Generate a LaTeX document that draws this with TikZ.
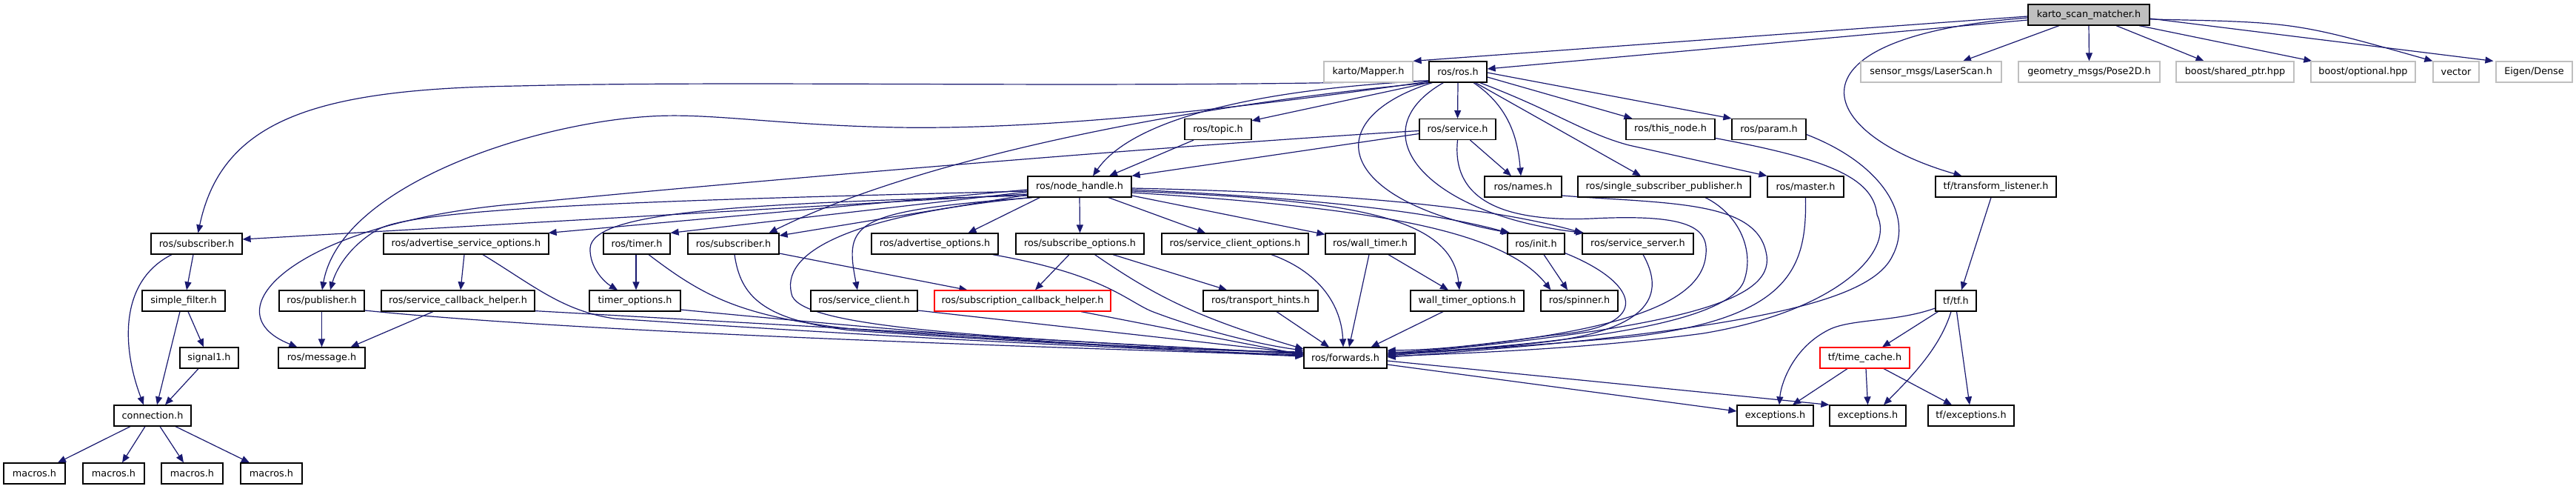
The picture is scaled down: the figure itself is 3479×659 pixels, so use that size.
\documentclass[tikz,border=0pt]{standalone}
\usepackage{fontspec}
\setmainfont{DejaVu Sans}
\usetikzlibrary{arrows.meta,calc}
\definecolor{edgecol}{HTML}{191970}
\definecolor{extgray}{HTML}{BFBFBF}
\pgfdeclarelayer{bg}
\pgfsetlayers{bg,main}
\begin{document}
\begin{tikzpicture}[x=0.5pt,y=-0.5pt,
 box/.style={draw=black, fill=white, line width=0.6pt, minimum height=14pt, inner sep=0pt, font=\fontsize{6.4}{7.7}\selectfont},
 ext/.style={box, draw=extgray},
 trunc/.style={box, draw=red},
 root/.style={box, fill=extgray},
 wd/.style={minimum width=#1*0.5pt},
 dep/.style={draw=edgecol, line width=0.6pt, -{Triangle[length=5.5pt,width=4.5pt]}}]
\useasboundingbox (0,0) rectangle (3479,659);
% row 1
\node[root, wd=164] (K) at (2821,20) {karto\_scan\_matcher.h};
% row 2
\node[ext, wd=120] (mapper) at (1848,97) {karto/Mapper.h};
\node[box, wd=78] (ros) at (1969,97) {ros/ros.h};
\node[ext, wd=190] (laser) at (2608,97) {sensor\_msgs/LaserScan.h};
\node[ext, wd=191] (pose) at (2821.5,97) {geometry\_msgs/Pose2D.h};
\node[ext, wd=159] (shared) at (3018.5,97) {boost/shared\_ptr.hpp};
\node[ext, wd=141] (optional) at (3191.5,97) {boost/optional.hpp};
\node[ext, wd=62] (vector) at (3317,97) {vector};
\node[ext, wd=103] (eigen) at (3422.5,97) {Eigen/Dense};
% row 3
\node[box, wd=90] (topic) at (1645,174.5) {ros/topic.h};
\node[box, wd=103] (service) at (1968.5,174.5) {ros/service.h};
\node[box, wd=120] (thisnode) at (2256,174.5) {ros/this\_node.h};
\node[box, wd=100] (param) at (2389,174.5) {ros/param.h};
% row 4
\node[box, wd=140] (nh) at (1458,252) {ros/node\_handle.h};
\node[box, wd=104] (names) at (2057,252) {ros/names.h};
\node[box, wd=233] (ssp) at (2247.5,252) {ros/single\_subscriber\_publisher.h};
\node[box, wd=103] (master) at (2438.5,252) {ros/master.h};
\node[box, wd=163] (tl) at (2695.5,252) {tf/transform\_listener.h};
% row 5
\node[box, wd=123] (subA) at (265.5,329) {ros/subscriber.h};
\node[box, wd=223] (aso) at (629.5,329) {ros/advertise\_service\_options.h};
\node[box, wd=90] (timer) at (860,329) {ros/timer.h};
\node[box, wd=123] (subB) at (990.5,329) {ros/subscriber.h};
\node[box, wd=171] (ao) at (1262.5,329) {ros/advertise\_options.h};
\node[box, wd=173] (so) at (1458.5,329) {ros/subscribe\_options.h};
\node[box, wd=198] (sco) at (1668,329) {ros/service\_client\_options.h};
\node[box, wd=121] (wt) at (1850.5,329) {ros/wall\_timer.h};
\node[box, wd=77] (init) at (2074.5,329) {ros/init.h};
\node[box, wd=150] (ss) at (2212,329) {ros/service\_server.h};
% row 6
\node[box, wd=112] (sf) at (248,406) {simple\_filter.h};
\node[box, wd=115] (pub) at (434.5,406) {ros/publisher.h};
\node[box, wd=207] (sch) at (618.5,406) {ros/service\_callback\_helper.h};
\node[box, wd=123] (tmo) at (857.5,406) {timer\_options.h};
\node[box, wd=144] (sc) at (1167,406) {ros/service\_client.h};
\node[trunc, wd=238] (scbh) at (1381,406) {ros/subscription\_callback\_helper.h};
\node[box, wd=155] (th) at (1702.5,406) {ros/transport\_hints.h};
\node[box, wd=153] (wto) at (1981.5,406) {wall\_timer\_options.h};
\node[box, wd=104] (spin) at (2133,406) {ros/spinner.h};
\node[box, wd=55] (tf) at (2641.5,406) {tf/tf.h};
% row 7
\node[box, wd=79] (sig) at (282.5,483) {signal1.h};
\node[box, wd=117] (msg) at (434.5,483) {ros/message.h};
\node[box, wd=112] (fwd) at (1817,483) {ros/forwards.h};
\node[trunc, wd=121] (tc) at (2518.5,483) {tf/time\_cache.h};
% row 8
\node[box, wd=104] (conn) at (206,561) {connection.h};
\node[box, wd=103] (exa) at (2397.5,561) {exceptions.h};
\node[box, wd=103] (exb) at (2522.5,561) {exceptions.h};
\node[box, wd=116] (tfex) at (2662,561) {tf/exceptions.h};
% row 9
\node[box, wd=83] (m1) at (46.5,639) {macros.h};
\node[box, wd=83] (m2) at (153.5,639) {macros.h};
\node[box, wd=83] (m3) at (259.5,639) {macros.h};
\node[box, wd=83] (m4) at (366.5,639) {macros.h};

\begin{pgfonlayer}{bg}
\fill[white] (0,0) rectangle (3479,659);
% karto_scan_matcher.h
\draw[dep] ($(K.west)+(0,2)$) -- (mapper.north east);
\draw[dep] ($(K.west)+(0,7)$) -- ($(ros.east)+(0,-4)$);
\draw[dep] ($(K.south)+(-40,0)$) -- ($(laser.north)+(43,0)$);
\draw[dep] (K.south) -- (pose.north);
\draw[dep] ($(K.south)+(37,0)$) -- ($(shared.north)+(-42,0)$);
\draw[dep] ($(K.south)+(68,0)$) -- ($(optional.north west)+(2,0)$);
\draw[dep] ($(K.east)+(0,6)$) .. controls (3100,30) .. (vector.north west);
\draw[dep] ($(K.east)+(0,5)$) -- ($(eigen.north west)+(-3,0)$);
\draw[dep] ($(K.west)+(0,4)$) .. controls (2400,50) and (2450,180) .. ($(tl.north)+(-46,0)$);
% ros/ros.h
\draw[dep] ($(ros.west)+(0,12)$) .. controls (1500,120) and (1000,108) .. (700,116) .. controls (430,120) and (300,160) .. ($(subA.north)+(2,0)$);
\draw[dep] ($(ros.west)+(0,12)$) .. controls (1700,120) and (1530,160) .. ($(nh.north)+(18,0)$);
\draw[dep] (ros.south west) -- ($(topic.north east)+(0,3)$);
\draw[dep] (ros.south) -- (service.north);
\draw[dep] ($(ros.west)+(0,13)$) .. controls (1650,150) and (1400,175) .. (1213,172) .. controls (1050,169) and (960,152) .. (879,157) .. controls (720,166) and (460,250) .. ($(pub.north)+(0.5,0)$);
\draw[dep] ($(ros.south west)+(2,0)$) .. controls (1620,140) and (1250,210) .. ($(subB.north)+(48,0)$);
\draw[dep] ($(ros.south)+(21,0)$) .. controls (2040,145) and (2050,190) .. ($(names.north)+(-3,0)$);
\draw[dep] ($(ros.east)+(0,7)$) -- ($(thisnode.north west)+(9,0)$);
\draw[dep] ($(ros.east)+(0,1)$) -- (param.north west);
\draw[dep] ($(ros.south east)+(-10,0)$) .. controls (2100,150) and (2140,180) .. (2200,196) -- (master.north west);
\draw[dep] ($(ros.south east)+(-16,0)$) -- ($(ssp.north)+(-31.5,0)$);
\draw[dep] ($(ros.south west)+(5,0)$) .. controls (1780,160) and (1800,270) .. ($(init.north west)+(4,0)$);
\draw[dep] ($(ros.south west)+(20,0)$) .. controls (1830,180) and (1930,290) .. ($(ss.north west)+(3,0)$);
% ros/service.h
\draw[dep] ($(service.west)+(0,6)$) -- (nh.north east);
\draw[dep] ($(service.south)+(17,0)$) -- ($(names.north)+(-16,0)$);
\draw[dep] ($(service.west)+(0,2)$) .. controls (1600,195) and (1000,245) .. (700,275) .. controls (400,300) and (280,420) .. ($(msg.north west)+(26,0)$);
\draw[dep] (service.south) .. controls (1960,270) and (2030,300) .. (2150,295) .. controls (2290,288) and (2310,310) .. (2303,350) .. controls (2290,420) and (2150,455) .. ($(fwd.east)+(0,-6)$);
% ros/topic.h
\draw[dep] ($(topic.south)+(-33,0)$) -- ($(nh.north)+(40,0)$);
% ros/node_handle.h
\draw[dep] ($(nh.west)+(0,10)$) -- ($(subA.east)+(0,-6)$);
\draw[dep] ($(nh.west)+(0,6)$) .. controls (900,270) and (560,280) .. (510,310) .. controls (475,330) and (455,360) .. ($(pub.north)+(11.5,0)$);
\draw[dep] ($(nh.west)+(0,4)$) -- ($(aso.north east)+(-1,0)$);
\draw[dep] ($(nh.west)+(0,7)$) -- (timer.north east);
\draw[dep] ($(nh.west)+(0,11)$) -- ($(subB.east)+(0,-11)$);
\draw[dep] ($(nh.west)+(0,12)$) .. controls (1000,275) and (800,285) .. (797,335) .. controls (796,360) and (815,380) .. ($(tmo.north)+(-23.5,0)$);
\draw[dep] ($(nh.south west)+(7,0)$) .. controls (1150,285) and (1140,300) .. ($(sc.north)+(-9,0)$);
\draw[dep] ($(nh.south west)+(5,0)$) .. controls (1150,290) and (1050,340) .. (1070,400) .. controls (1090,440) and (1300,455) .. ($(fwd.west)+(0,-6)$);
\draw[dep] ($(nh.south west)+(17,0)$) -- ($(ao.north)+(45,0)$);
\draw[dep] (nh.south) -- (so.north);
\draw[dep] ($(nh.south)+(39,0)$) -- ($(sco.north)+(-40,0)$);
\draw[dep] ($(nh.east)+(0,12)$) -- ($(wt.north west)+(0,2)$);
\draw[dep] ($(nh.east)+(0,4)$) .. controls (1800,268) and (1950,290) .. ($(init.north west)+(2,0)$);
\draw[dep] ($(nh.east)+(0,2)$) .. controls (1900,262) and (2050,290) .. ($(ss.north west)+(1,0)$);
\draw[dep] ($(nh.east)+(0,6)$) .. controls (1820,270) and (1960,290) .. ($(wto.north)+(-10.5,0)$);
\draw[dep] ($(nh.east)+(0,8)$) .. controls (1850,280) and (2030,310) .. ($(spin.north west)+(14,0)$);
% left part
\draw[dep] ($(subA.south)+(-4.5,0)$) -- ($(sf.north)+(4,0)$);
\draw[dep] ($(subA.south)+(-33.5,0)$) .. controls (160,380) and (165,470) .. ($(conn.north)+(-12,0)$);
\draw[dep] ($(sf.south)+(-5,0)$) -- ($(conn.north)+(6,0)$);
\draw[dep] ($(sf.south)+(6,0)$) -- ($(sig.north)+(-7.5,0)$);
\draw[dep] ($(sig.south)+(-14.5,0)$) -- ($(conn.north)+(17,0)$);
\draw[dep] ($(conn.south)+(-30,0)$) -- ($(m1.north)+(31.5,0)$);
\draw[dep] ($(conn.south)+(-10,0)$) -- ($(m2.north)+(11.5,0)$);
\draw[dep] ($(conn.south)+(10,0)$) -- ($(m3.north)+(-11.5,0)$);
\draw[dep] ($(conn.south)+(31,0)$) -- ($(m4.north)+(-29.5,0)$);
\draw[dep] (pub.south) -- (msg.north);
\draw[dep] ($(pub.east)+(0,13)$) .. controls (800,450) and (1400,468) .. ($(fwd.west)+(0,-3)$);
\draw[dep] ($(sch.south)+(-33.5,0)$) -- ($(msg.north east)+(-20,0)$);
\draw[dep] ($(sch.south east)+(0,-1)$) -- ($(fwd.west)+(0,-5)$);
\draw[dep] ($(aso.south)+(-2.5,0)$) -- ($(sch.north)+(3.5,0)$);
\draw[dep] ($(aso.south)+(22.5,0)$) .. controls (720,385) and (760,420) .. (830,430) .. controls (1200,455) and (1500,470) .. ($(fwd.west)+(0,-4)$);
\draw[dep] ($(timer.south)+(-1,0)$) -- ($(tmo.north)+(1.5,0)$);
\draw[dep] ($(timer.south)+(16,0)$) .. controls (950,400) and (1000,427) .. (1150,444) .. controls (1400,462) and (1600,472) .. ($(fwd.west)+(0,-7)$);
\draw[dep] ($(tmo.east)+(0,12)$) .. controls (1200,445) and (1500,470) .. ($(fwd.west)+(0,-2)$);
\draw[dep] ($(subB.east)+(0,13)$) -- ($(scbh.north west)+(45,0)$);
\draw[dep] ($(subB.south)+(1.5,0)$) .. controls (1000,400) and (1030,432) .. (1150,446) .. controls (1400,463) and (1600,473) .. ($(fwd.west)+(0,-8)$);
\draw[dep] ($(sc.east)+(0,13)$) -- ($(fwd.west)+(0,-6)$);
\draw[dep] ($(ao.south east)+(-8,0)$) .. controls (1490,370) and (1520,405) .. (1555,420) .. controls (1620,445) and (1700,465) .. ($(fwd.west)+(0,-10)$);
\draw[dep] ($(so.south)+(-14.5,0)$) -- ($(scbh.north)+(17,0)$);
\draw[dep] ($(so.south)+(20,0)$) .. controls (1560,400) and (1620,430) .. ($(fwd.west)+(0,-12)$);
\draw[dep] ($(so.south)+(44.5,0)$) -- ($(th.north)+(-45.5,0)$);
\draw[dep] ($(scbh.south)+(79,0)$) -- ($(fwd.west)+(0,-4)$);
\draw[dep] ($(th.south)+(21.5,0)$) -- ($(fwd.north)+(-22,0)$);
\draw[dep] ($(sco.south)+(49,0)$) .. controls (1790,370) and (1812,420) .. ($(fwd.north)+(-3,0)$);
\draw[dep] ($(wt.south)+(-1.5,0)$) -- ($(fwd.north)+(5,0)$);
\draw[dep] ($(wt.south)+(24.5,0)$) -- ($(wto.north)+(-25.5,0)$);
\draw[dep] ($(wto.south)+(-32.5,0)$) -- ($(fwd.north east)+(-22,0)$);
\draw[dep] ($(init.south)+(10.5,0)$) -- ($(spin.north)+(-16,0)$);
% into ros/forwards.h from the right
\draw[dep] ($(init.south east)+(0,-2)$) .. controls (2210,380) and (2240,440) .. (2100,452) .. controls (2000,465) and (1950,472) .. ($(fwd.east)+(0,-10)$);
\draw[dep] ($(ss.south)+(7,0)$) .. controls (2245,390) and (2240,440) .. (2100,460) .. controls (2000,472) and (1930,476) .. ($(fwd.east)+(0,-8)$);
\draw[dep] ($(names.east)+(0,12)$) .. controls (2250,275) and (2370,270) .. (2385,340) .. controls (2400,400) and (2300,440) .. ($(fwd.east)+(0,-4)$);
\draw[dep] ($(ssp.south)+(55.5,0)$) .. controls (2350,290) and (2370,340) .. (2355,380) .. controls (2330,440) and (2100,465) .. ($(fwd.east)+(0,-5)$);
\draw[dep] (master.south) .. controls (2440,360) and (2420,430) .. (2200,455) .. controls (2050,468) and (1950,474) .. ($(fwd.east)+(0,-3)$);
\draw[dep] ($(thisnode.east)+(0,12)$) .. controls (2470,215) and (2530,240) .. (2535,290) .. controls (2560,340) and (2480,420) .. (2300,450) .. controls (2150,470) and (2000,476) .. ($(fwd.east)+(0,-2)$);
\draw[dep] ($(param.east)+(0,7)$) .. controls (2540,220) and (2585,290) .. (2556,345) .. controls (2530,400) and (2400,445) .. ($(fwd.east)+(0,-1)$);
% ros/forwards.h
\draw[dep] ($(fwd.east)+(0,4)$) -- (exb.north west);
\draw[dep] ($(fwd.east)+(0,9)$) -- ($(exa.west)+(0,-6)$);
% tf
\draw[dep] ($(tl.south)+(-6.5,0)$) -- ($(tf.north)+(7.5,0)$);
\draw[dep] ($(tf.west)+(0,10)$) .. controls (2560,435) and (2500,430) .. (2470,445) .. controls (2420,470) and (2405,520) .. ($(exa.north)+(5.5,0)$);
\draw[dep] ($(tf.south west)+(4,0)$) -- ($(tc.north)+(23.5,0)$);
\draw[dep] ($(tf.south)+(-6.5,0)$) .. controls (2620,470) and (2580,510) .. ($(exb.north)+(21.5,0)$);
\draw[dep] ($(tf.south)+(1,0)$) -- ($(tfex.north)+(-2,0)$);
\draw[dep] ($(tc.south)+(-23.5,0)$) -- ($(exa.north)+(23.5,0)$);
\draw[dep] ($(tc.south)+(1.5,0)$) -- (exb.north);
\draw[dep] ($(tc.south)+(25.5,0)$) -- ($(tfex.north)+(-26,0)$);
\end{pgfonlayer}
\end{tikzpicture}
\end{document}
